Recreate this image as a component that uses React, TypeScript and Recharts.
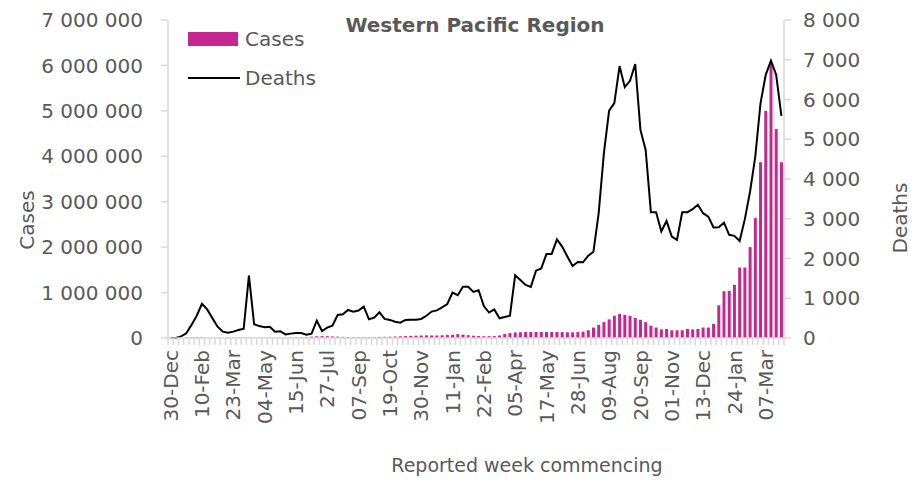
import React from 'react';
import { ComposedChart, Bar, Line, XAxis, YAxis, Legend } from 'recharts';

// ---------- data ----------
const START_WEEK = { year: 2019, month: 11, day: 30 }; // 30-Dec-2019, first week commencing
const WEEK_COUNT = 118;
const MONTHS = ['Jan', 'Feb', 'Mar', 'Apr', 'May', 'Jun', 'Jul', 'Aug', 'Sep', 'Oct', 'Nov', 'Dec'];
const LABEL_EVERY = 6;

const cases = [
  0, 300, 3000, 14000, 20000, 18000, 14000, 6000, 3000, 3000,
  6000, 10000, 11000, 9000, 7000, 5000, 4000, 4000, 3500, 4000,
  5000, 6000, 7000, 9000, 12000, 16000, 22000, 30000, 38000, 42000,
  40000, 35000, 30000, 25000, 21000, 19000, 17000, 17000, 18000, 20000,
  23000, 26000, 29000, 32000, 37000, 42000, 47000, 52000, 55000, 58000,
  56000, 55000, 60000, 66000, 70000, 85000, 75000, 62000, 50000, 44000,
  40000, 40000, 42000, 55000, 88000, 108000, 122000, 128000, 132000, 132000,
  132000, 133000, 132000, 131000, 132000, 130000, 126000, 124000, 130000, 140000,
  170000, 230000, 290000, 350000, 410000, 490000, 530000, 510000, 490000, 440000,
  400000, 350000, 270000, 230000, 190000, 200000, 170000, 170000, 170000, 200000,
  190000, 200000, 230000, 230000, 310000, 720000, 1030000, 1040000, 1170000, 1550000,
  1550000, 2000000, 2640000, 3870000, 5000000, 6050000, 4600000, 3870000,
];

const deaths = [
  0, 0, 40, 120, 330, 560, 860, 720, 500, 285,
  160, 135, 160, 200, 235, 1570, 345, 300, 270, 280,
  160, 170, 90, 110, 125, 125, 85, 110, 435, 175,
  260, 310, 580, 595, 705, 660, 690, 790, 470, 510,
  645, 480, 455, 410, 385, 455, 460, 460, 480, 560,
  665, 695, 770, 855, 1140, 1075, 1290, 1290, 1160, 1200,
  805, 640, 720, 495, 530, 560, 1580, 1460, 1335, 1285,
  1695, 1750, 2115, 2115, 2480, 2300, 2050, 1810, 1910, 1905,
  2070, 2170, 3140, 4650, 5720, 5910, 6840, 6310, 6470, 6890,
  5235, 4730, 3165, 3165, 2680, 2945, 2550, 2470, 3165, 3165,
  3240, 3350, 3140, 3055, 2780, 2785, 2900, 2595, 2570, 2440,
  2990, 3685, 4565, 5905, 6620, 6980, 6620, 5590,
];

const casesTicks = [0, 1000000, 2000000, 3000000, 4000000, 5000000, 6000000, 7000000];
const deathsTicks = [0, 1000, 2000, 3000, 4000, 5000, 6000, 7000, 8000];

const weekLabels: string[] = [];
for (let i = 0; i < WEEK_COUNT; i++) {
  const d = new Date(Date.UTC(START_WEEK.year, START_WEEK.month, START_WEEK.day + 7 * i));
  const dd = String(d.getUTCDate()).padStart(2, '0');
  weekLabels.push(`${dd}-${MONTHS[d.getUTCMonth()]}`);
}

const data = weekLabels.map((week, i) => ({ week, idx: i, cases: cases[i], deaths: deaths[i] }));

// ---------- layout ----------
const FONT = '"DejaVu Sans", sans-serif';
const TEXT = '#595959';
const AXIS = '#d9d9d9';
const PINK = '#C4278F';
const W = 907;
const H = 473;
const LEFT_W = 160;
const RIGHT_W = 131;
const TOP = 12;
const XAXIS_H = 143;
const PLOT_W = W - LEFT_W - RIGHT_W;
const PLOT_BOTTOM = H - XAXIS_H;
const BW = PLOT_W / WEEK_COUNT;

const fmt = (v: number) => String(v).replace(/\B(?=(\d{3})+(?!\d))/g, ' ');

const XTick = (props: any) => {
  const { x, payload } = props;
  const i = payload.index;
  const y0 = PLOT_BOTTOM;
  return (
    <g>
      {i === 0 && <line x1={x - BW / 2} x2={x - BW / 2} y1={y0} y2={y0 + 7} stroke={AXIS} strokeWidth={1.5} />}
      <line x1={x + BW / 2} x2={x + BW / 2} y1={y0} y2={y0 + 7} stroke={AXIS} strokeWidth={1.5} />
      {i % LABEL_EVERY === 0 && (
        <text
          transform={`translate(${x},${y0 + 12}) rotate(-90)`}
          textAnchor="end"
          dy="0.36em"
          fill={TEXT}
          fontSize={20}
          fontFamily={FONT}
        >
          {payload.value}
        </text>
      )}
    </g>
  );
};

const renderLegend = () => (
  <div style={{ position: 'relative', width: 160, height: 70, fontFamily: FONT, fontSize: 20, color: TEXT }}>
    <div style={{ position: 'absolute', left: 0, top: 2, width: 50, height: 14, background: PINK }} />
    <div style={{ position: 'absolute', left: 57, top: -3, lineHeight: '24px', whiteSpace: 'nowrap' }}>Cases</div>
    <div style={{ position: 'absolute', left: 0, top: 47, width: 52, height: 2, background: '#000' }} />
    <div style={{ position: 'absolute', left: 57, top: 36, lineHeight: '24px', whiteSpace: 'nowrap' }}>Deaths</div>
  </div>
);

export default function App() {
  return (
    <div style={{ position: 'relative', width: W, height: H, fontFamily: FONT }}>
      <div
        style={{
          position: 'absolute', left: 0, width: 934, top: 4, textAlign: 'center',
          fontWeight: 'bold', fontSize: 20, color: TEXT, lineHeight: '26px', zIndex: 2,
        }}
      >
        Western Pacific Region
      </div>
      <ComposedChart
        width={W}
        height={H}
        data={data}
        margin={{ top: TOP, right: 0, bottom: 0, left: 0 }}
        barCategoryGap="22%"
      >
        <XAxis
          dataKey="week"
          height={XAXIS_H}
          interval={0}
          tickLine={false}
          axisLine={{ stroke: AXIS, strokeWidth: 1.5 }}
          tick={<XTick />}
          label={() => (
            <text x={519} y={457} textAnchor="middle" dominantBaseline="central" fill={TEXT} fontSize={19} fontFamily={FONT}>
              Reported week commencing
            </text>
          )}
        />
        <YAxis
          yAxisId="left"
          width={LEFT_W}
          domain={[0, 7000000]}
          ticks={casesTicks}
          tickFormatter={fmt}
          tickSize={7}
          tickMargin={18}
          axisLine={{ stroke: AXIS, strokeWidth: 1.5 }}
          tickLine={{ stroke: AXIS, strokeWidth: 1.5 }}
          tick={{ fill: TEXT, fontSize: 20, fontFamily: FONT }}
          label={() => (
            <text transform="translate(19,212) rotate(-90)" textAnchor="middle" dominantBaseline="central" fill={TEXT} fontSize={20} fontFamily={FONT}>
              Cases
            </text>
          )}
        />
        <YAxis
          yAxisId="right"
          orientation="right"
          width={RIGHT_W}
          domain={[0, 8000]}
          ticks={deathsTicks}
          tickFormatter={fmt}
          tickSize={7}
          tickMargin={12}
          axisLine={{ stroke: AXIS, strokeWidth: 1.5 }}
          tickLine={{ stroke: AXIS, strokeWidth: 1.5 }}
          tick={{ fill: TEXT, fontSize: 20, fontFamily: FONT, textAnchor: 'start' }}
          label={() => (
            <text transform="translate(892,210) rotate(-90)" textAnchor="middle" dominantBaseline="central" fill={TEXT} fontSize={20} fontFamily={FONT}>
              Deaths
            </text>
          )}
        />
        <Legend
          layout="vertical"
          align="center"
          verticalAlign="middle"
          content={renderLegend}
          wrapperStyle={{ left: 180, top: 22, width: 160, height: 70 }}
        />
        <Bar yAxisId="left" dataKey="cases" name="Cases" fill={PINK} isAnimationActive={false} />
        <Line
          yAxisId="right"
          dataKey="deaths"
          name="Deaths"
          type="linear"
          stroke="#000"
          strokeWidth={2}
          dot={false}
          activeDot={false}
          isAnimationActive={false}
        />
      </ComposedChart>
    </div>
  );
}
